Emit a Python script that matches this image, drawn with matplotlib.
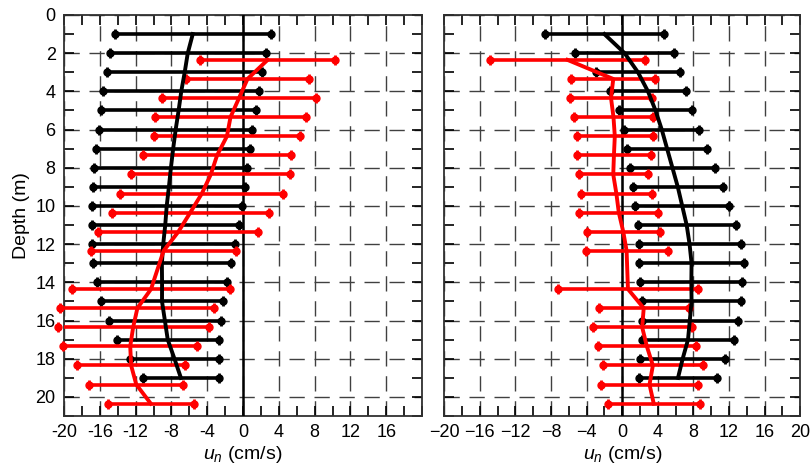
import matplotlib
matplotlib.use("Agg")
import matplotlib.pyplot as plt
import numpy as np
from matplotlib.ticker import MultipleLocator

plt.rcParams["font.family"] = ["Liberation Sans", "DejaVu Sans"]
plt.rcParams["mathtext.fontset"] = "custom"
plt.rcParams["mathtext.rm"] = "Liberation Sans"
plt.rcParams["mathtext.it"] = "Liberation Sans:italic"

# depths (m)
depth_black = [1, 2, 3, 4, 5, 6, 7, 8, 9, 10, 11, 12, 13, 14, 15, 16, 17, 18, 19]
depth_red = [2.35, 3.35, 4.35, 5.35, 6.35, 7.35, 8.35, 9.35, 10.35, 11.35, 12.35,
             14.35, 15.35, 16.35, 17.35, 18.35, 19.35, 20.35]

# left panel: bar ends (cm/s)
left_black_lo = [-14.3, -14.9, -15.2, -15.6, -15.85, -16.1, -16.4, -16.6, -16.75, -16.9,
                 -16.9, -16.9, -16.75, -16.3, -15.9, -15.0, -14.1, -12.6, -11.2]
left_black_hi = [3.07, 2.55, 2.17, 1.8, 1.46, 1.05, 0.79, 0.49, 0.19, -0.15,
                 -0.48, -0.93, -1.38, -1.79, -2.2, -2.46, -2.72, -2.72, -2.68]
left_red_lo = [-4.8, -6.4, -9.0, -9.8, -10.0, -11.2, -12.5, -13.7, -14.65, -16.15, -17.0,
               -19.1, -20.4, -20.7, -20.1, -18.5, -17.2, -15.1]
left_red_hi = [10.3, 7.4, 8.1, 7.0, 6.4, 5.4, 5.3, 4.5, 2.85, 1.7, -0.75,
               -1.45, -3.2, -3.85, -5.1, -6.5, -6.65, -5.5]

# right panel: bar ends (cm/s)
right_black_lo = [-8.7, -5.3, -2.95, -1.4, -0.3, 0.25, 0.6, 0.9, 1.2, 1.45,
                  1.75, 1.85, 1.9, 2.05, 2.2, 2.2, 2.2, 2.0, 1.85]
right_black_hi = [4.7, 5.85, 6.5, 7.2, 7.8, 8.65, 9.5, 10.4, 11.3, 12.05,
                  12.75, 13.3, 13.7, 13.5, 13.4, 13.0, 12.6, 11.6, 10.7]
right_red_lo = [-14.9, -5.7, -5.9, -5.4, -5.1, -5.1, -4.85, -4.65, -4.8, -3.95, -4.1,
                -7.2, -2.65, -3.3, -2.75, -2.2, -2.35, -1.6]
right_red_hi = [2.6, 3.7, 3.4, 3.45, 3.45, 3.25, 2.85, 3.35, 4.05, 4.2, 5.1,
                8.5, 7.5, 7.8, 8.3, 9.1, 8.5, 8.7]

x_ticks = [-20, -16, -12, -8, -4, 0, 4, 8, 12, 16, 20]
y_ticks = [0, 2, 4, 6, 8, 10, 12, 14, 16, 18, 20]


def draw_bars(ax, depth, lo, hi, color, z):
    depth = np.asarray(depth)
    lo = np.asarray(lo)
    hi = np.asarray(hi)
    mid = (lo + hi) / 2
    ax.hlines(depth, lo, hi, color=color, lw=2.6, zorder=z)
    for ends in (lo, hi):
        ax.plot(ends, depth, ls="none", marker="o", ms=5, color=color, zorder=z, clip_on=False)
        ax.plot(ends, depth, ls="none", marker="|", ms=7, mew=2, color=color, zorder=z, clip_on=False)
    ax.plot(mid, depth, color=color, lw=2.8, zorder=z + 2)


def style_axis(ax, show_ylabels):
    ax.set_xlim(-20, 20)
    ax.set_ylim(21, 0)
    ax.set_xticks(x_ticks)
    ax.xaxis.set_minor_locator(MultipleLocator(2))
    ax.set_yticks(y_ticks)
    ax.yaxis.set_minor_locator(MultipleLocator(1))
    ax.tick_params(which="both", direction="in", top=True, right=True,
                   length=7, width=1.2, labelsize=13, pad=6)
    ax.grid(True, which="major", ls=(0, (11, 7)), color="#404040", lw=1.0, zorder=0)
    ax.axvline(0, color="black", lw=1.8, zorder=3)
    for s in ax.spines.values():
        s.set_linewidth(1.3)
        s.set_color("#303030")
    ax.set_xlabel(r"$u_n$ (cm/s)", fontsize=14, labelpad=2)
    if show_ylabels:
        ax.set_ylabel("Depth (m)", fontsize=14, labelpad=4)
    else:
        ax.set_yticklabels([])


fig = plt.figure(figsize=(8.12, 4.68), dpi=100)
ax1 = fig.add_axes([0.0788, 0.111, 0.441, 0.857])
ax2 = fig.add_axes([0.547, 0.111, 0.4384, 0.857])

style_axis(ax1, True)
style_axis(ax2, False)
ax1.set_xticklabels([str(t) for t in x_ticks[:-1]] + [""])

draw_bars(ax1, depth_black, left_black_lo, left_black_hi, "black", 4)
draw_bars(ax1, depth_red, left_red_lo, left_red_hi, "#ff0000", 5)
draw_bars(ax2, depth_black, right_black_lo, right_black_hi, "black", 4)
draw_bars(ax2, depth_red, right_red_lo, right_red_hi, "#ff0000", 5)

fig.savefig("out.png", dpi=100)
